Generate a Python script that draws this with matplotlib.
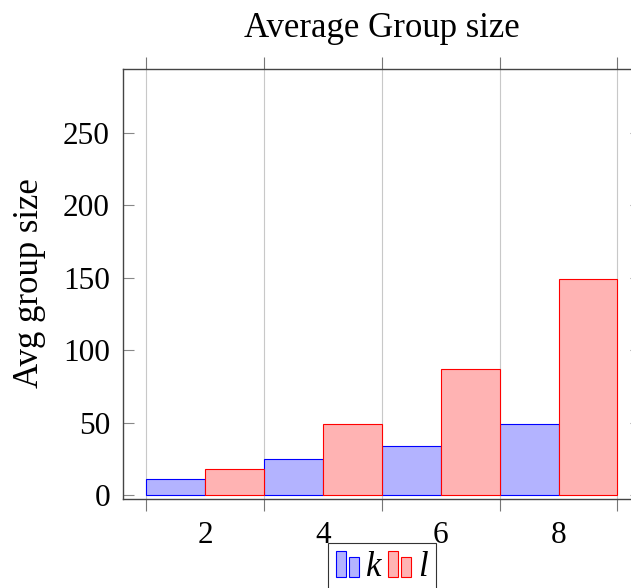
import matplotlib
matplotlib.use("Agg")
import matplotlib.pyplot as plt
import matplotlib.patches as mpatches
from matplotlib.legend_handler import HandlerBase
import numpy as np

# ---- data ----
groups = [2, 4, 6, 8]
k_values = [11, 25, 34, 49]
l_values = [18, 49, 87, 149]
series_names = ["k", "l"]
title = "Average Group size"
ylabel = "Avg group size"
yticks = [0, 50, 100, 150, 200, 250]

plt.rcParams['font.family'] = ['Liberation Serif', 'DejaVu Serif']
FS = 22.5
FS_LAB = 25

fig = plt.figure(figsize=(6.31, 5.88), dpi=100)
W, H = 631, 588
left, right, top, bottom = 123, 641, 69, 498.7
ax = fig.add_axes([left / W, 1 - bottom / H, (right - left) / W, (bottom - top) / H])

blue_fill, blue_edge = '#b3b3ff', '#0000ff'
red_fill, red_edge = '#ffb3b3', '#ff0000'

x = np.array(groups, dtype=float)
ax.bar(x - 0.5, k_values, width=1.0, color=blue_fill, edgecolor=blue_edge,
       linewidth=0.8, zorder=3, label=series_names[0])
ax.bar(x + 0.5, l_values, width=1.0, color=red_fill, edgecolor=red_edge,
       linewidth=0.8, zorder=3, label=series_names[1])

ax.set_xlim(0.604, 9.4)
ax.set_ylim(-2.3, 293.9)

# x ticks: labels at even values, marks/grid at odd values
ax.set_xticks(groups)
ax.set_xticklabels([str(g) for g in groups], fontsize=FS)
ax.set_xticks([1, 3, 5, 7, 9], minor=True)
ax.tick_params(axis='x', which='major', length=0, pad=16)
ax.tick_params(axis='x', which='minor', direction='out', length=8.5, width=0.8,
               color='#777777', top=True, bottom=True)
ax.grid(True, axis='x', which='minor', color='#c8c8c8', linewidth=0.8, zorder=0)
ax.set_axisbelow(True)

ax.set_yticks(yticks)
ax.set_yticklabels([str(v) for v in yticks], fontsize=FS)
ax.tick_params(axis='y', which='major', direction='in', length=8, width=0.8,
               color='#888888', left=True, right=True, pad=9.4)

for s in ax.spines.values():
    s.set_color('#444444')
    s.set_linewidth(1.0)

ax.set_title(title, fontsize=FS_LAB, y=1.0745, pad=0)
ax.set_ylabel(ylabel, fontsize=FS_LAB)
ax.yaxis.set_label_coords(-0.149, 0.502)


class BarHandler(HandlerBase):
    def create_artists(self, legend, orig_handle, xdescent, ydescent,
                       width, height, fontsize, trans):
        fc = orig_handle.get_facecolor()
        ec = orig_handle.get_edgecolor()
        w = width * 0.43
        r1 = mpatches.Rectangle((-xdescent, -ydescent), w, height,
                                facecolor=fc, edgecolor=ec, linewidth=0.8,
                                transform=trans)
        r2 = mpatches.Rectangle((-xdescent + width - w, -ydescent), w, height * 0.77,
                                facecolor=fc, edgecolor=ec, linewidth=0.8,
                                transform=trans)
        return [r1, r2]


handles = [mpatches.Rectangle((0, 0), 1, 1, facecolor=blue_fill, edgecolor=blue_edge),
           mpatches.Rectangle((0, 0), 1, 1, facecolor=red_fill, edgecolor=red_edge)]
leg = ax.legend(handles, series_names, ncol=2,
                loc='upper center', bbox_to_anchor=(0.5, -0.1024),
                borderaxespad=0,
                prop={'family': ['Liberation Serif'], 'style': 'italic', 'size': 25},
                frameon=True, fancybox=False,
                handlelength=0.66, handleheight=0.77, handletextpad=0.2,
                columnspacing=0.2, borderpad=0.24,
                handler_map={mpatches.Rectangle: BarHandler()})
leg.get_frame().set_edgecolor('#333333')
leg.get_frame().set_linewidth(0.8)
leg.get_frame().set_alpha(1)

fig.savefig("out.png", dpi=100)
